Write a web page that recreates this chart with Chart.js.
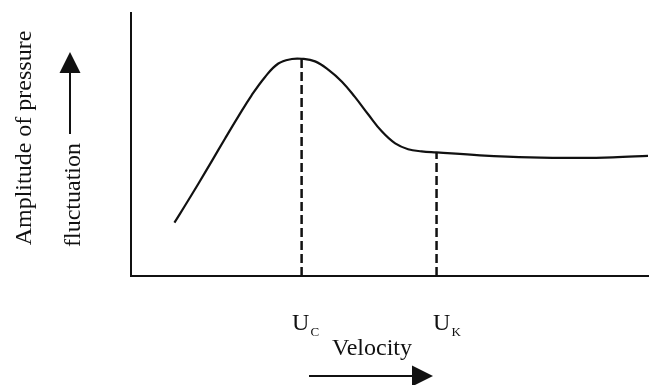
<!DOCTYPE html>
<html>
<head>
<meta charset="utf-8">
<script src="https://cdn.jsdelivr.net/npm/chart.js@4.4.1/dist/chart.umd.min.js"></script>
<style>
  html, body { margin: 0; padding: 0; background: #ffffff; }
  #wrap { position: relative; width: 664px; height: 385px; }
</style>
</head>
<body>
<div id="wrap"><canvas id="chart"></canvas></div>
<script>
// Velocity (relative units, 0-100 along the horizontal axis)
const velocity = [8.4, 10.4, 13.0, 15.6, 18.2, 20.8, 23.3, 25.9, 28.5, 31.1, 33.0,
                  35.6, 38.2, 40.8, 43.3, 45.9, 48.5, 51.1, 53.6, 56.2, 59.1,
                  67.5, 77.2, 86.8, 93.2, 100];
// Amplitude of pressure fluctuation (relative units, 0-100)
const amplitude = [20.3, 26.6, 35.0, 43.6, 52.3, 60.8, 68.6, 75.6, 80.8, 82.5, 82.6,
                   81.6, 78.4, 73.9, 68.1, 61.4, 55.0, 50.4, 48.2, 47.4, 47.0,
                   45.9, 45.1, 44.9, 45.1, 45.7];
// Characteristic velocities marked on the axis
const markerNames = ['C', 'K'];
const markerVelocity = [33.0, 59.1];
const markerAmplitude = [82.6, 47.0];

const INK = '#111111';
const SERIF = '"Liberation Serif", "Times New Roman", serif';

const curve = velocity.map((v, i) => ({ x: v, y: amplitude[i] }));

const markerSets = markerVelocity.map((v, i) => ({
  data: [{ x: v, y: 0 }, { x: v, y: markerAmplitude[i] }],
  borderColor: INK,
  borderWidth: 2.5,
  borderDash: [9, 4],
  pointRadius: 0,
  fill: false
}));

function arrow(ctx, x1, y1, x2, y2, head, half) {
  const ang = Math.atan2(y2 - y1, x2 - x1);
  const bx = x2 - head * Math.cos(ang), by = y2 - head * Math.sin(ang);
  ctx.beginPath();
  ctx.moveTo(x1, y1);
  ctx.lineTo(bx, by);
  ctx.lineWidth = 2;
  ctx.strokeStyle = INK;
  ctx.stroke();
  ctx.beginPath();
  ctx.moveTo(x2, y2);
  ctx.lineTo(bx + half * Math.sin(ang), by - half * Math.cos(ang));
  ctx.lineTo(bx - half * Math.sin(ang), by + half * Math.cos(ang));
  ctx.closePath();
  ctx.fillStyle = INK;
  ctx.fill();
}

const annotations = {
  id: 'annotations',
  afterDraw(chart) {
    const ctx = chart.ctx;
    const xs = chart.scales.x;
    ctx.save();
    ctx.fillStyle = INK;

    // vertical axis caption, two lines reading upward
    ctx.font = '24px ' + SERIF;
    ctx.save();
    ctx.translate(31, 138);
    ctx.rotate(-Math.PI / 2);
    ctx.textAlign = 'center';
    ctx.textBaseline = 'alphabetic';
    ctx.fillText('Amplitude of pressure', 0, 0);
    ctx.restore();

    ctx.save();
    ctx.translate(80, 247);
    ctx.rotate(-Math.PI / 2);
    ctx.textAlign = 'left';
    ctx.textBaseline = 'alphabetic';
    ctx.fillText('fluctuation', 0, 0);
    ctx.restore();

    arrow(ctx, 70, 134, 70, 52, 21, 10.5);

    // velocity markers U_C and U_K
    const offsets = [-9.5, -3.5];
    markerVelocity.forEach((v, i) => {
      const px = xs.getPixelForValue(v) + offsets[i];
      ctx.textAlign = 'left';
      ctx.textBaseline = 'alphabetic';
      ctx.font = '24px ' + SERIF;
      ctx.fillText('U', px, 330);
      const w = ctx.measureText('U').width;
      ctx.font = '13px ' + SERIF;
      ctx.fillText(markerNames[i], px + w + 1, 336);
    });

    // horizontal axis caption
    ctx.font = '24px ' + SERIF;
    ctx.textAlign = 'left';
    ctx.fillText('Velocity', 332, 355);
    arrow(ctx, 309, 376, 433, 376, 21, 10.5);

    ctx.restore();
  }
};

new Chart(document.getElementById('chart'), {
  type: 'line',
  data: {
    datasets: [{
      data: curve,
      borderColor: INK,
      borderWidth: 2.2,
      pointRadius: 0,
      tension: 0.4,
      fill: false
    }, ...markerSets]
  },
  options: {
    responsive: true,
    maintainAspectRatio: false,
    animation: false,
    layout: { padding: { left: 123, right: 16, top: 13, bottom: 101 } },
    plugins: { legend: { display: false }, tooltip: { enabled: false } },
    scales: {
      x: {
        type: 'linear', min: 0, max: 100,
        ticks: { display: false },
        grid: { display: false },
        border: { display: true, color: INK, width: 2 }
      },
      y: {
        type: 'linear', min: 0, max: 100,
        ticks: { display: false },
        grid: { display: false },
        border: { display: true, color: INK, width: 2 }
      }
    }
  },
  plugins: [annotations]
});
</script>
</body>
</html>
